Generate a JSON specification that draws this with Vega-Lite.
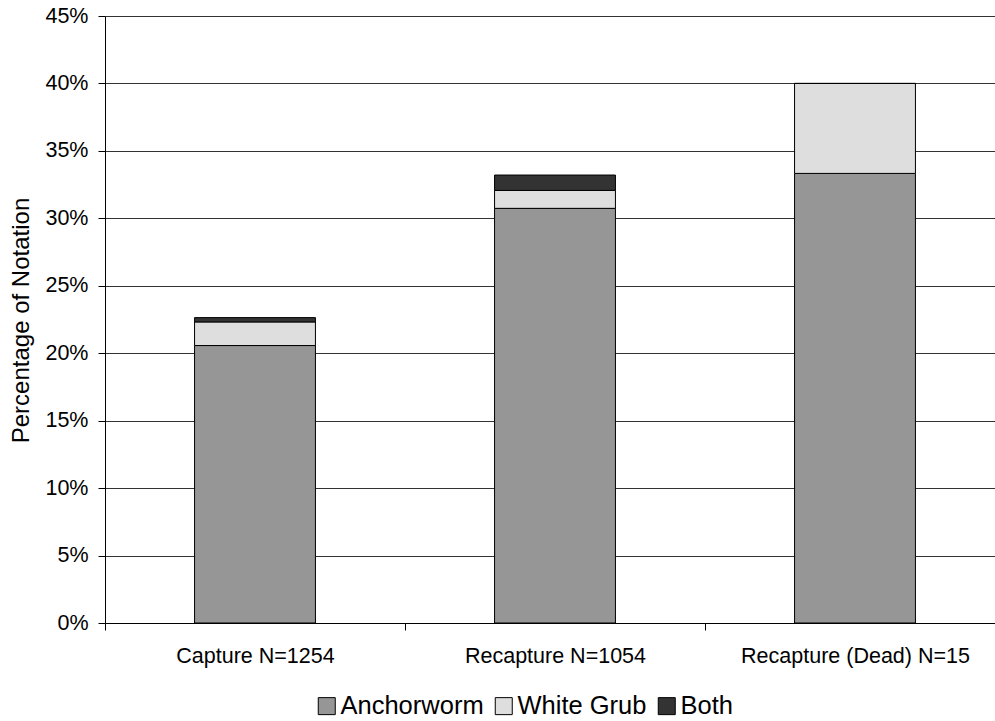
{
  "$schema": "https://vega.github.io/schema/vega-lite/v6.json",
  "autosize": "none",
  "padding": {"left": 105, "top": 16, "right": 0, "bottom": 98},
  "width": 890,
  "height": 607,
  "background": "white",
  "config": {
    "font": "Liberation Sans",
    "view": {"stroke": null},
    "axis": {"labelFont": "Liberation Sans", "titleFont": "Liberation Sans", "labelColor": "#000", "titleColor": "#000"}
  },
  "data": {
    "values": [
      {"group": "Capture N=1254", "type": "Anchorworm", "rank": 1, "pct": 0.2057},
      {"group": "Capture N=1254", "type": "White Grub", "rank": 2, "pct": 0.0175},
      {"group": "Capture N=1254", "type": "Both", "rank": 3, "pct": 0.0032},
      {"group": "Recapture N=1054", "type": "Anchorworm", "rank": 1, "pct": 0.3074},
      {"group": "Recapture N=1054", "type": "White Grub", "rank": 2, "pct": 0.0133},
      {"group": "Recapture N=1054", "type": "Both", "rank": 3, "pct": 0.0114},
      {"group": "Recapture (Dead) N=15", "type": "Anchorworm", "rank": 1, "pct": 0.3333},
      {"group": "Recapture (Dead) N=15", "type": "White Grub", "rank": 2, "pct": 0.0667},
      {"group": "Recapture (Dead) N=15", "type": "Both", "rank": 3, "pct": 0.0}
    ]
  },
  "mark": {"type": "bar", "width": {"band": 0.403}, "stroke": "#000", "strokeWidth": 1},
  "encoding": {
    "x": {
      "field": "group",
      "type": "nominal",
      "sort": ["Capture N=1254", "Recapture N=1054", "Recapture (Dead) N=15"],
      "scale": {"range": [0, 900], "paddingInner": 0, "paddingOuter": 0},
      "axis": {
        "title": null,
        "labelAngle": 0,
        "labelFontSize": 21.5,
        "labelPadding": 15,
        "labelLimit": 0,
        "tickBand": "extent",
        "tickSize": 7,
        "tickColor": "#000",
        "domainColor": "#000",
        "grid": false
      }
    },
    "y": {
      "field": "pct",
      "type": "quantitative",
      "stack": "zero",
      "scale": {"domain": [0, 0.45], "nice": false},
      "axis": {
        "title": "Percentage of Notation",
        "titleFontSize": 24,
        "titleFontWeight": "normal",
        "titleX": -77,
        "titleY": 304,
        "titleBaseline": "alphabetic",
        "values": [0, 0.05, 0.1, 0.15, 0.2, 0.25, 0.3, 0.35, 0.4, 0.45],
        "format": ".0%",
        "labelFontSize": 21.5,
        "labelPadding": 10,
        "tickSize": 7,
        "tickColor": "#000",
        "domainColor": "#000",
        "grid": true,
        "gridColor": "#333",
        "gridWidth": 1
      }
    },
    "color": {
      "field": "type",
      "type": "nominal",
      "sort": ["Anchorworm", "White Grub", "Both"],
      "scale": {"domain": ["Anchorworm", "White Grub", "Both"], "range": ["#969696", "#dedede", "#333333"]},
      "legend": {
        "title": null,
        "orient": "none",
        "direction": "horizontal",
        "legendX": 209,
        "legendY": 677,
        "symbolType": "square",
        "symbolSize": 289,
        "symbolStrokeColor": "#000",
        "symbolStrokeWidth": 1,
        "symbolOpacity": 1,
        "labelFontSize": 25.5,
        "labelColor": "#000",
        "labelOffset": 1,
        "columnPadding": 7
      }
    },
    "order": {"field": "rank", "type": "quantitative", "sort": "ascending"}
  }
}
